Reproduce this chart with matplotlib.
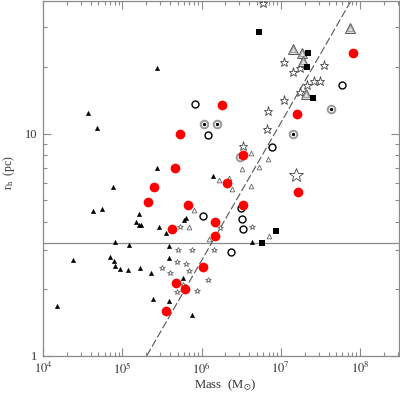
import matplotlib
matplotlib.use("Agg")
import matplotlib.pyplot as plt
import numpy as np
from matplotlib.ticker import LogLocator, NullFormatter, FixedLocator, FixedFormatter

plt.rcParams['font.family'] = ['Liberation Serif', 'DejaVu Serif']
plt.rcParams['mathtext.fontset'] = 'stix'

# ---- data (mass in Msun, r_h in pc) ----
red_mass = [5.34e5, 4.62e5, 1.81e6, 3.33e6, 1.60e7, 8.11e7, 2.51e5, 2.11e5, 6.74e5, 4.24e5,
            2.09e6, 1.64e7, 3.33e6, 1.48e6, 1.48e6, 4.76e5, 6.18e5, 3.56e5, 1.04e6]
red_rh = [10.0, 6.96, 13.5, 7.97, 12.3, 23.1, 5.72, 4.90, 4.75, 3.71,
          5.96, 5.43, 4.75, 3.98, 3.45, 2.12, 1.99, 1.59, 2.50]

tri_mass = [3.69e4, 4.80e4, 2.74e5, 2.74e5, 7.6e4, 4.27e4, 5.55e4, 1.62e5, 1.49e5, 1.62e5,
            1.72e5, 2.90e5, 3.56e5, 8.1e4, 1.21e5, 3.88e5, 2.39e4, 7.0e4, 7.86e4, 8.1e4,
            9.4e4, 1.18e5, 1.67e5, 2.30e5, 3.88e5, 5.82e5, 2.44e5, 3.88e5, 1.50e4, 7.57e5,
            1.39e6, 3.05e6, 4.32e6, 6.36e5, 6.0e5]
tri_rh = [12.4, 10.6, 19.8, 6.96, 5.72, 4.47, 4.56, 4.33, 3.98, 3.86,
          3.86, 3.78, 3.56, 3.24, 3.14, 3.11, 2.69, 2.78, 2.66, 2.53,
          2.45, 2.43, 2.48, 2.35, 2.75, 2.23, 1.80, 1.76, 1.67, 1.52,
          6.41, 7.72, 3.24, 4.15, 4.07]

otri_mass = [4.20e6, 6.88e6, 5.30e6, 3.23e6, 1.66e6, 2.22e6, 2.42e6, 4.20e6, 8.02e5, 6.93e5,
             1.24e6, 7.08e6]
otri_rh = [8.13, 7.64, 7.04, 6.89, 6.15, 6.28, 5.61, 5.78, 4.51, 3.78, 3.34, 3.45]

sstar_mass = [5.34e5, 1.71e6, 4.32e6, 5.04e5, 7.57e5, 1.43e6, 4.90e5, 6.36e5, 3.17e5, 4.0e5,
              6.93e5, 1.20e6, 5.82e5, 4.90e5, 8.75e5]
sstar_rh = [3.78, 3.74, 3.78, 2.98, 2.98, 2.98, 2.64, 2.58, 2.48, 2.35,
            2.40, 2.19, 2.08, 1.93, 1.95]

ocirc_mass = [8.26e5, 1.20e6, 7.73e6, 5.89e7, 1.04e6, 3.14e6, 3.23e6, 3.33e6, 2.35e6]
ocirc_rh = [13.6, 9.8, 8.74, 16.6, 4.24, 4.61, 4.11, 3.71, 2.92]

dcirc_mass = [1.07e6, 1.56e6, 1.42e7, 4.28e7, 3.05e6]
dcirc_rh = [11.0, 11.0, 10.0, 12.9, 7.80]

star_mass = [5.95e6, 3.33e6, 6.88e6, 6.68e6, 1.09e7, 1.09e7, 1.42e7, 1.74e7, 3.49e7, 2.13e7,
             2.61e7, 3.11e7, 1.74e7]
star_rh = [38.7, 8.83, 12.6, 10.5, 14.2, 21.0, 19.0, 19.8, 20.4, 16.6, 17.3, 17.3, 15.3]

bigstar_mass = [1.55e7]
bigstar_rh = [6.48]

bigtri_mass = [7.43e7, 1.42e7, 1.85e7, 1.90e7, 2.07e7]
bigtri_rh = [29.9, 24.1, 23.1, 21.3, 15.1]

sq_mass = [5.30e6, 2.20e7, 2.13e7, 2.54e7, 5.78e6, 8.67e6]
sq_rh = [28.7, 23.1, 20.0, 14.4, 3.21, 3.63]

hline_rh = 3.2
dash_mass = [2.04e5, 7.83e7]
dash_rh = [1.0, 40.0]

# ---- figure ----
fig = plt.figure(figsize=(4.0, 3.93), dpi=100)
ax = fig.add_axes([43/400, (393-355.7)/393, 356/400, 355/393])
ax.set_xscale('log')
ax.set_yscale('log')
ax.set_xlim(1e4, 3.1e8)
ax.set_ylim(1, 39.6)

grey = '#8a8a8a'
ax.axhline(hline_rh, color=grey, lw=0.9, zorder=1)
ax.plot(dash_mass, dash_rh, color='#555555', lw=0.8, dashes=(7, 2.5), zorder=1)

ax.plot(tri_mass, tri_rh, ls='none', marker='^', ms=3.2, mfc='black', mec='black', mew=0.3, zorder=3)
ax.plot(otri_mass, otri_rh, ls='none', marker='^', ms=3.4, mfc='white', mec='#666666', mew=0.6, zorder=3)
ax.plot(sstar_mass, sstar_rh, ls='none', marker='*', ms=4.2, mfc='white', mec='#666666', mew=0.6, zorder=3)
ax.plot(ocirc_mass, ocirc_rh, ls='none', marker='o', ms=5.0, mfc='white', mec='black', mew=1.0, zorder=3)
ax.plot(dcirc_mass, dcirc_rh, ls='none', marker='o', ms=5.5, mfc='white', mec='#999999', mew=1.4, zorder=3)
ax.plot(dcirc_mass, dcirc_rh, ls='none', marker='o', ms=2.4, mfc='black', mec='black', mew=0, zorder=3)
ax.plot(star_mass, star_rh, ls='none', marker='*', ms=6.5, mfc='white', mec='#444444', mew=0.6, zorder=3)
ax.plot(bigstar_mass, bigstar_rh, ls='none', marker='*', ms=10, mfc='white', mec='#444444', mew=0.6, zorder=3)
ax.plot(bigtri_mass, bigtri_rh, ls='none', marker='^', ms=7.5, mfc='#e0e0e0', mec='#555555', mew=0.7, zorder=3)
ax.plot(bigtri_mass, bigtri_rh, ls='none', marker='^', ms=4.0, mfc='none', mec='#888888', mew=0.5, zorder=3)
ax.plot(sq_mass, sq_rh, ls='none', marker='s', ms=4.6, mfc='black', mec='black', mew=0, zorder=4)
ax.plot(red_mass, red_rh, ls='none', marker='o', ms=7.0, mfc='#ff0000', mec='#ff0000', mew=0, zorder=5)

for s in ax.spines.values():
    s.set_color(grey)
    s.set_linewidth(0.9)

ax.xaxis.set_major_locator(FixedLocator([1e4, 1e5, 1e6, 1e7, 1e8]))
ax.xaxis.set_major_formatter(FixedFormatter([r'$10^{4}$', r'$10^{5}$', r'$10^{6}$', r'$10^{7}$', r'$10^{8}$']))
ax.xaxis.set_minor_locator(LogLocator(base=10, subs=np.arange(2, 10), numticks=20))
ax.xaxis.set_minor_formatter(NullFormatter())
ax.yaxis.set_major_locator(FixedLocator([1, 10]))
ax.yaxis.set_major_formatter(FixedFormatter(['1', '10']))
ax.yaxis.set_minor_locator(LogLocator(base=10, subs=np.arange(2, 10), numticks=20))
ax.yaxis.set_minor_formatter(NullFormatter())

ax.tick_params(which='both', direction='in', top=True, right=True, color=grey, width=0.8,
               labelsize=9, labelcolor='#333333', pad=4)
ax.tick_params(which='major', length=5.5)
ax.tick_params(which='minor', length=2.6)

ax.set_xlabel(r'Mass  (M$_{\odot}$)', fontsize=9.2, color='#333333')
ax.xaxis.set_label_coords(0.511, -0.062)
ax.set_ylabel(r'r$_{\rm h}$  (pc)', fontsize=8.5, color='#333333')
ax.yaxis.set_label_coords(-0.072, 0.515)

fig.savefig('out.png', dpi=100)
